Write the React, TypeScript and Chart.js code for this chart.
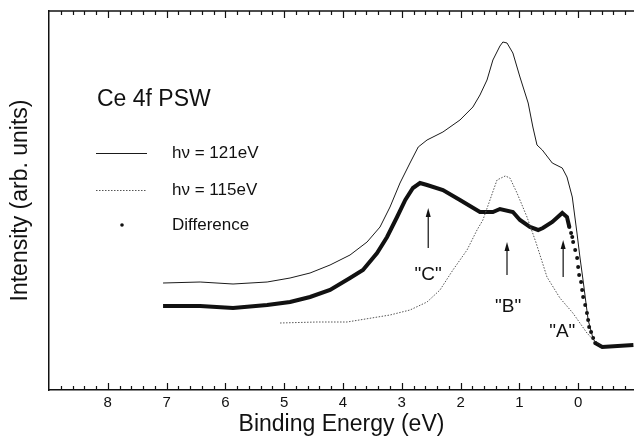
import React, { useEffect, useRef } from 'react';
import { Chart, registerables } from 'chart.js';

Chart.register(...registerables);

// ---- data (binding energy in eV, intensity in arbitrary units) ----
const energy121 = [7.06, 6.43, 5.87, 5.29, 4.90, 4.56, 4.22, 3.88, 3.59, 3.37, 3.20, 3.03, 2.86, 2.72, 2.57, 2.30, 2.01, 1.79, 1.67, 1.55, 1.45, 1.33, 1.28, 1.21, 1.11, 0.99, 0.85, 0.77, 0.70, 0.61, 0.44, 0.27, 0.19, 0.10, 0.02, -0.03, -0.09, -0.17, -0.26, -0.37];
const intensity121 = [107, 108, 106, 108, 112, 117, 125, 135, 148, 163, 183, 207, 227, 243, 250, 258, 270, 283, 295, 310, 330, 344, 348, 347, 337, 313, 287, 263, 245, 240, 227, 222, 213, 193, 157, 133, 107, 70, 50, 45];

const energy115 = [5.07, 4.44, 3.93, 3.20, 2.86, 2.57, 2.35, 2.13, 1.89, 1.72, 1.62, 1.50, 1.38, 1.24, 1.16, 1.04, 0.87, 0.72, 0.53, 0.31, 0.09, -0.15, -0.26, -0.37];
const intensity115 = [67, 68, 68, 75, 80, 88, 100, 120, 140, 160, 170, 190, 210, 214, 212, 197, 173, 148, 113, 92, 77, 57, 50, 45];

const energyDiff = [7.06, 6.43, 5.87, 5.29, 4.90, 4.56, 4.22, 3.88, 3.66, 3.42, 3.25, 3.08, 2.94, 2.81, 2.69, 2.57, 2.30, 2.01, 1.67, 1.45, 1.33, 1.11, 0.99, 0.82, 0.68, 0.60, 0.44, 0.27, 0.19, 0.15, 0.12, 0.10, 0.085, 0.05, 0.017, 0.0, -0.017, -0.05, -0.068, -0.085, -0.12, -0.15, -0.17, -0.187, -0.22, -0.255, -0.29, -0.41, -0.94];
const intensityDiff = [84, 84, 82, 85, 88, 93, 100, 112, 120, 137, 153, 173, 190, 202, 207, 205, 200, 190, 178, 178, 181, 178, 170, 163, 160, 162, 168, 177, 173, 163, 157, 153, 148, 140, 132, 123, 115, 108, 100, 93, 85, 77, 70, 63, 58, 52, 47, 43, 45];

const xTickValues = [8, 7, 6, 5, 4, 3, 2, 1, 0];
const seriesLabels = ['hν = 121eV', 'hν = 115eV', 'Difference'];
const panelTitle = 'Ce 4f PSW';

// arrow annotations (energy, intensity from -> to, label position)
const arrowLabels = ['"C"', '"B"', '"A"'];
const arrowEnergy = [2.55, 1.21, 0.255];
const arrowFrom = [142, 115, 113];
const arrowTo = [182, 148, 150];
const labelEnergy = [2.55, 1.19, 0.27];
const labelIntensity = [115, 83, 58];

const FONT = "'Liberation Sans', Arial, Helvetica, sans-serif";
const INK = '#111';

const isEdge = (v: number) => v <= 0.151 && v >= -0.291;

const decorPlugin = {
  id: 'decor',
  afterDatasetsDraw(chart: any) {
    const { ctx, chartArea: a, scales } = chart;
    const x = scales.x;
    const y = scales.y;
    ctx.save();
    ctx.strokeStyle = INK;
    ctx.fillStyle = INK;
    // top frame line
    ctx.lineWidth = 1.5;
    ctx.beginPath();
    ctx.moveTo(a.left, a.top);
    ctx.lineTo(a.right, a.top);
    ctx.stroke();
    // inward tick marks on bottom and top axes (every 0.2 eV, major every 1 eV)
    ctx.lineWidth = 1.2;
    for (let i = -4; i < 45; i++) {
      const v = i * 0.2;
      if (v < x.min || v > x.max) continue;
      const px = Math.round(x.getPixelForValue(v)) + 0.5;
      const major = i % 5 === 0;
      const len = major ? 7 : 4;
      ctx.beginPath();
      ctx.moveTo(px, a.bottom);
      ctx.lineTo(px, a.bottom - len);
      ctx.moveTo(px, a.top);
      ctx.lineTo(px, a.top + len);
      ctx.stroke();
    }
    // arrows and labels
    ctx.lineWidth = 1.2;
    ctx.font = `19px ${FONT}`;
    ctx.textAlign = 'center';
    ctx.textBaseline = 'middle';
    arrowLabels.forEach((lab, i) => {
      const px = x.getPixelForValue(arrowEnergy[i]);
      const y0 = y.getPixelForValue(arrowFrom[i]);
      const y1 = y.getPixelForValue(arrowTo[i]);
      ctx.beginPath();
      ctx.moveTo(px, y0);
      ctx.lineTo(px, y1 + 6);
      ctx.stroke();
      ctx.beginPath();
      ctx.moveTo(px, y1);
      ctx.lineTo(px - 2.5, y1 + 9);
      ctx.lineTo(px + 2.5, y1 + 9);
      ctx.closePath();
      ctx.fill();
      ctx.fillText(lab, x.getPixelForValue(labelEnergy[i]), y.getPixelForValue(labelIntensity[i]));
    });
    // panel title
    ctx.textAlign = 'left';
    ctx.font = `23px ${FONT}`;
    ctx.fillText(panelTitle, a.left + 48, a.top + 89);
    // legend
    const ds = chart.data.datasets;
    ctx.font = `17px ${FONT}`;
    const rows = [a.top + 142, a.top + 179, a.top + 214];
    for (let k = 0; k < 3; k++) {
      const ry = rows[k];
      if (k < 2) {
        ctx.save();
        ctx.strokeStyle = ds[k].borderColor;
        ctx.lineWidth = ds[k].borderWidth;
        ctx.setLineDash(ds[k].borderDash || []);
        ctx.beginPath();
        ctx.moveTo(a.left + 47, ry + 0.5);
        ctx.lineTo(a.left + 98, ry + 0.5);
        ctx.stroke();
        ctx.restore();
      } else {
        ctx.beginPath();
        ctx.arc(a.left + 73, ry, 1.8, 0, Math.PI * 2);
        ctx.fill();
      }
      ctx.fillText(seriesLabels[k], a.left + 123, ry);
    }
    ctx.restore();
  },
};

export default function App() {
  const canvasRef = useRef<HTMLCanvasElement | null>(null);

  useEffect(() => {
    const canvas = canvasRef.current;
    if (!canvas) return;
    Chart.defaults.font.family = FONT;
    Chart.defaults.color = INK;
    const chart = new Chart(canvas, {
      type: 'line',
      data: {
        datasets: [
          {
            label: seriesLabels[0],
            data: energy121.map((e, i) => ({ x: e, y: intensity121[i] })),
            borderColor: '#1a1a1a',
            borderWidth: 1,
            pointRadius: 0,
            tension: 0,
            fill: false,
          },
          {
            label: seriesLabels[1],
            data: energy115.map((e, i) => ({ x: e, y: intensity115[i] })),
            borderColor: '#555',
            borderWidth: 1,
            borderDash: [1.5, 1.5],
            pointRadius: 0,
            tension: 0,
            fill: false,
          },
          {
            label: seriesLabels[2],
            data: energyDiff.map((e, i) => ({ x: e, y: intensityDiff[i] })),
            borderColor: INK,
            borderWidth: 4,
            pointRadius: (c: any) => (c.raw && isEdge(c.raw.x) ? 2 : 0),
            pointBackgroundColor: INK,
            pointBorderWidth: 0,
            tension: 0,
            fill: false,
            segment: {
              borderColor: (c: any) =>
                isEdge(c.p0.parsed.x) && isEdge(c.p1.parsed.x) ? 'rgba(0,0,0,0)' : INK,
            },
          } as any,
        ],
      },
      options: {
        animation: false,
        responsive: false,
        events: [],
        layout: { padding: { top: 11, right: 0, left: 0, bottom: 0 } },
        plugins: { legend: { display: false }, tooltip: { enabled: false } },
        scales: {
          x: {
            type: 'linear',
            reverse: true,
            min: -0.95,
            max: 9.0,
            afterBuildTicks: (s: any) => {
              s.ticks = xTickValues.map((v) => ({ value: v }));
            },
            afterFit: (s: any) => {
              s.height = 50;
            },
            ticks: {
              font: { size: 15, family: FONT },
              color: INK,
              padding: 4,
              maxRotation: 0,
              autoSkip: false,
              callback: (v: any) => String(v),
            },
            grid: { display: false, drawTicks: false },
            border: { display: true, color: INK, width: 1.5 },
            title: {
              display: true,
              text: 'Binding Energy (eV)',
              color: INK,
              font: { size: 23, family: FONT },
              padding: { top: 0, bottom: 2 },
            },
          },
          y: {
            type: 'linear',
            min: 0,
            max: 379,
            afterFit: (s: any) => {
              s.width = 49;
            },
            ticks: { display: false },
            grid: { display: false, drawTicks: false },
            border: { display: true, color: INK, width: 1.5 },
            title: {
              display: true,
              text: 'Intensity (arb. units)',
              color: INK,
              font: { size: 23, family: FONT },
              padding: { top: 7, bottom: 0 },
            },
          },
        },
      },
      plugins: [decorPlugin],
    } as any);
    return () => chart.destroy();
  }, []);

  return (
    <div style={{ position: 'fixed', left: 0, top: 0, width: 634, height: 440, background: '#fff' }}>
      <canvas ref={canvasRef} width={634} height={440} style={{ display: 'block' }} />
    </div>
  );
}
